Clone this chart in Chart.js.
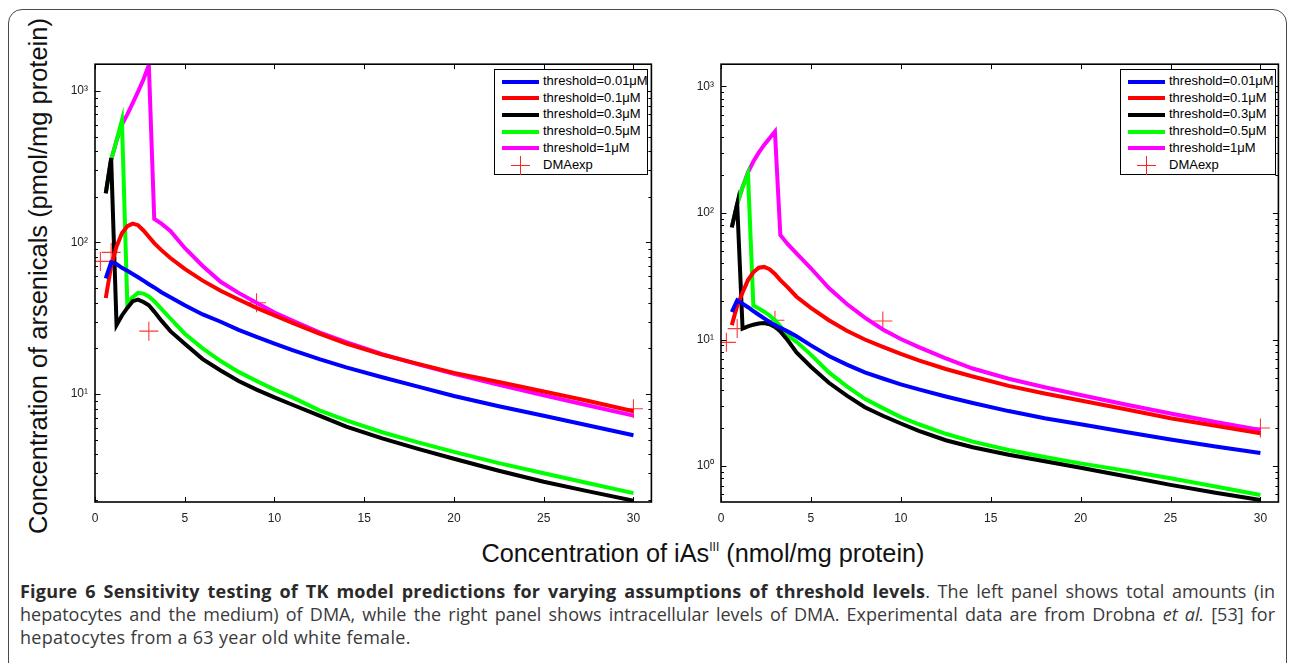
<!DOCTYPE html>
<html>
<head>
<meta charset="utf-8">
<script src="https://cdn.jsdelivr.net/npm/chart.js@4.4.1/dist/chart.umd.min.js"></script>
<style>
  html, body { margin: 0; padding: 0; background: #fff; }
  body { width: 1292px; height: 663px; position: relative; overflow: hidden; font-family: 'Liberation Sans', Arial, sans-serif; }
  .frame { position: absolute; left: 8px; top: 9px; width: 1277px; height: 720px; border: 1.5px solid #4a4a4a; border-radius: 14px; }
  .panel { position: absolute; }
  .ytitle { position: absolute; left: 38px; top: 276px; transform: translate(-50%, -50%) rotate(-90deg); white-space: nowrap; font-size: 25.5px; color: #111; }
  .xtitle { position: absolute; left: 703px; top: 553px; transform: translate(-50%, -50%); white-space: nowrap; font-size: 25.3px; color: #111; }
  .xtitle sup { font-size: 12px; vertical-align: 11px; line-height: 0; }
  .legend { position: absolute; border: 1px solid #000; background: #fff; font-size: 13px; color: #000; box-sizing: border-box; }
  .legend .row { position: absolute; left: 0; height: 17px; width: 100%; }
  .legend .sample { position: absolute; left: 7px; width: 37px; top: 6.5px; height: 4px; }
  .legend .cross-h { position: absolute; left: 16px; width: 19px; top: 8px; height: 1px; background: #f22; }
  .legend .cross-v { position: absolute; left: 25px; width: 1px; top: -1px; height: 19px; background: #f22; }
  .legend .txt { position: absolute; left: 48px; top: 0px; white-space: nowrap; line-height: 16px; }
  .caption { position: absolute; left: 20px; width: 1255px; font-family: 'Open Sans', sans-serif; font-size: 18px; color: #3a3a3a; line-height: 23px; }
  .caption .ln { text-align: justify; text-align-last: justify; white-space: nowrap; }
  .caption .ln.last { text-align: left; text-align-last: left; letter-spacing: 0.3px; }
  .caption b { color: #2a2a2a; letter-spacing: 0.2px; }
</style>
</head>
<body>
<div class="frame"></div>
<div class="ytitle">Concentration of arsenicals (pmol/mg protein)</div>
<div class="panel" style="left:40px;top:50px;"><canvas id="leftChart" width="622" height="480"></canvas></div>
<div class="panel" style="left:670px;top:50px;"><canvas id="rightChart" width="619" height="480"></canvas></div>
<div class="legend" id="leftLegend" style="left:494px;top:69px;width:154px;height:106px;"></div>
<div class="legend" id="rightLegend" style="left:1120px;top:69px;width:156px;height:106px;"></div>
<div class="xtitle">Concentration of iAs<sup>III</sup> (nmol/mg protein)</div>
<div class="caption" style="top:580px;">
  <div class="ln"><b>Figure 6 Sensitivity testing of TK model predictions for varying assumptions of threshold levels</b>. The left panel shows total amounts (in</div>
  <div class="ln">hepatocytes and the medium) of DMA, while the right panel shows intracellular levels of DMA. Experimental data are from Drobna <i>et al.</i> [53] for</div>
  <div class="ln last">hepatocytes from a 63 year old white female.</div>
</div>
<script>
// iAs(III) concentration grid shared by all model curves
var xGrid = [0.6, 0.9, 1.2, 1.5, 1.8, 2.1, 2.4, 2.7, 3.0, 3.3, 3.7, 4.2, 5, 6, 7, 8, 9, 10, 11, 12.5, 14, 16, 18, 20, 22.5, 25, 27.5, 30]

// left panel: total DMA
var blueLeft = [58, 74, 72, 68, 65, 62, 59, 56, 53, 50.5, 47, 43.5, 38.5, 33.5, 30, 26.5, 23.8, 21.5, 19.5, 17, 15, 12.9, 11.2, 9.7, 8.3, 7.2, 6.2, 5.35]
var redLeft = [43, 70, 94, 115, 128, 133, 130, 120, 109, 99, 89, 79, 67, 56, 48, 42, 37, 33, 29.5, 25, 21.5, 18.2, 15.8, 13.8, 12, 10.4, 9, 7.7]
var blackLeft = [211, 360, 28.5, 33, 37, 41, 42, 40.5, 38.5, 35, 30.5, 26, 21.5, 17, 14.3, 12.2, 10.7, 9.5, 8.5, 7.2, 6.1, 5.1, 4.35, 3.74, 3.12, 2.64, 2.28, 1.98]
var greenLeft = [211, 350, 470, 640, 39.5, 43.5, 46.5, 46, 44, 41, 36.5, 31.5, 25, 20, 16.5, 14, 12.2, 10.7, 9.5, 7.8, 6.7, 5.6, 4.8, 4.15, 3.5, 3.0, 2.58, 2.22]
var magentaLeft = [211, 350, 470, 600, 700, 830, 990, 1190, 1480, 143, 133, 119, 92, 70, 55, 46.5, 40, 34.5, 30.5, 25.5, 22, 18.3, 15.7, 13.6, 11.5, 9.8, 8.4, 7.2]
var expXLeft = [0.3, 0.9, 3, 9, 30]
var expYLeft = [75, 86, 26, 40, 8]

// right panel: intracellular DMA
var blueRight = [16.5, 20.4, 19.2, 18, 16.8, 15.7, 14.7, 13.8, 13, 12.4, 11.6, 10.6, 9, 7.4, 6.34, 5.5, 4.92, 4.42, 4.04, 3.55, 3.15, 2.72, 2.39, 2.14, 1.86, 1.62, 1.43, 1.27]
var redRight = [13, 18.5, 23.5, 29.5, 34, 37, 37.5, 36, 33, 29.5, 26, 21.8, 17.8, 14.2, 11.75, 10, 8.75, 7.7, 6.85, 5.85, 5.1, 4.3, 3.75, 3.3, 2.81, 2.39, 2.08, 1.82]
var blackRight = [77, 118, 12.2, 12.7, 13.1, 13.4, 13.5, 13.2, 12.6, 11.6, 9.9, 7.9, 6.1, 4.55, 3.6, 2.92, 2.5, 2.17, 1.9, 1.6, 1.41, 1.23, 1.09, 0.97, 0.83, 0.71, 0.615, 0.54]
var greenRight = [77, 118, 160, 205, 18.6, 17.6, 16.6, 15.5, 14.2, 12.8, 10.8, 9.6, 7.6, 5.5, 4.26, 3.4, 2.87, 2.44, 2.14, 1.8, 1.56, 1.34, 1.18, 1.05, 0.92, 0.8, 0.69, 0.59]
var magentaRight = [77, 118, 160, 210, 255, 300, 345, 390, 440, 67, 57, 48, 36.6, 25.5, 19.1, 14.9, 12, 10.1, 8.7, 7.1, 5.9, 4.9, 4.2, 3.65, 3.07, 2.6, 2.23, 1.93]
var expXRight = [0.3, 0.9, 3, 9, 30]
var expYRight = [9.5, 12.2, 14.2, 14.0, 2.0]

var seriesLabels = ['threshold=0.01\u03bcM', 'threshold=0.1\u03bcM', 'threshold=0.3\u03bcM', 'threshold=0.5\u03bcM', 'threshold=1\u03bcM']
var seriesColors = ['#0000ff', '#ff0000', '#000000', '#00ff00', '#ff00ff']
var expLabel = 'DMAexp'
var xTicks = [0, 5, 10, 15, 20, 25, 30]
var supDigits = {'-1': '\u207b\u00b9', 0: '\u2070', 1: '\u00b9', 2: '\u00b2', 3: '\u00b3'}

function pairs (xs, ys) {
  var out = []
  for (var i = 0; i < xs.length; i++) out.push({x: xs[i], y: ys[i]})
  return out
}

// matlab style box with inward ticks on all four sides
var boxPlugin = {
  id: 'box',
  afterDatasetsDraw (chart) {
    var ctx = chart.ctx, a = chart.chartArea
    var xs = chart.scales.x, ys = chart.scales.y
    ctx.save()
    ctx.strokeStyle = '#000'
    ctx.lineWidth = 1
    ctx.beginPath()
    xTicks.forEach(function (v) {
      var px = Math.round(xs.getPixelForValue(v)) + 0.5
      ctx.moveTo(px, a.bottom); ctx.lineTo(px, a.bottom - 5)
      ctx.moveTo(px, a.top); ctx.lineTo(px, a.top + 5)
    })
    var lo = Math.floor(Math.log10(ys.min)), hi = Math.ceil(Math.log10(ys.max))
    for (var e = lo; e <= hi; e++) {
      for (var m = 1; m <= 9; m++) {
        var v = m * Math.pow(10, e)
        if (v < ys.min || v > ys.max) continue
        var py = Math.round(ys.getPixelForValue(v)) + 0.5
        var len = m === 1 ? 5.5 : 3
        ctx.moveTo(a.left, py); ctx.lineTo(a.left + len, py)
        ctx.moveTo(a.right, py); ctx.lineTo(a.right - len, py)
      }
    }
    ctx.stroke()
    ctx.lineWidth = 1.6
    ctx.strokeRect(a.left, a.top, a.right - a.left, a.bottom - a.top)
    ctx.restore()
  }
}

function makeChart (id, ysList, expX, expY, yMin, yMax, yWidth) {
  var datasets = []
  for (var i = 0; i < ysList.length; i++) {
    datasets.push({
      label: seriesLabels[i],
      data: pairs(xGrid, ysList[i]),
      borderColor: seriesColors[i],
      backgroundColor: seriesColors[i],
      borderWidth: 4,
      pointRadius: 0,
      tension: 0,
      fill: false
    })
  }
  datasets.push({
    label: expLabel,
    data: pairs(expX, expY),
    showLine: false,
    pointStyle: 'cross',
    pointRadius: 9.5,
    borderWidth: 1.1,
    borderColor: 'rgba(255,20,20,0.85)',
    backgroundColor: 'rgba(255,20,20,0.85)'
  })
  var tickFont = {family: "'Liberation Sans', Arial, sans-serif", size: 12}
  return new Chart(document.getElementById(id).getContext('2d'), {
    type: 'line',
    data: {datasets: datasets},
    options: {
      responsive: false,
      animation: false,
      devicePixelRatio: 1,
      layout: {padding: {top: 13.5, right: 10, left: 0, bottom: 0}},
      plugins: {legend: {display: false}, tooltip: {enabled: false}},
      scales: {
        x: {
          type: 'linear', min: 0, max: 31,
          afterBuildTicks (s) { s.ticks = xTicks.map(function (v) { return {value: v} }) },
          afterFit (s) { s.height = 28 },
          grid: {display: false, drawTicks: false},
          border: {display: false},
          ticks: {font: tickFont, color: '#222', padding: 9, maxRotation: 0}
        },
        y: {
          type: 'logarithmic', min: yMin, max: yMax,
          afterBuildTicks (s) {
            var t = []
            for (var e = -1; e <= 3; e++) {
              var v = Math.pow(10, e)
              if (v >= s.min && v <= s.max) t.push({value: v})
            }
            s.ticks = t
          },
          afterFit (s) { s.width = yWidth },
          grid: {display: false, drawTicks: false},
          border: {display: false},
          ticks: {
            font: tickFont, color: '#222', padding: 7,
            callback (v) { return '10' + supDigits[Math.round(Math.log10(v))] }
          }
        }
      }
    },
    plugins: [boxPlugin]
  })
}

function makeLegend (chart, el) {
  chart.data.datasets.forEach(function (ds, i) {
    var row = document.createElement('div')
    row.className = 'row'
    row.style.top = (3 + i * 16.7) + 'px'
    if (ds.showLine === false) {
      row.innerHTML = '<div class="cross-h"></div><div class="cross-v"></div>'
    } else {
      row.innerHTML = '<div class="sample" style="background:' + ds.borderColor + '"></div>'
    }
    var t = document.createElement('div')
    t.className = 'txt'
    t.textContent = ds.label
    row.appendChild(t)
    el.appendChild(row)
  })
}

var leftChart = makeChart('leftChart', [blueLeft, redLeft, blackLeft, greenLeft, magentaLeft], expXLeft, expYLeft, 1.94, 1500, 55)
var rightChart = makeChart('rightChart', [blueRight, redRight, blackRight, greenRight, magentaRight], expXRight, expYRight, 0.52, 1500, 51)
makeLegend(leftChart, document.getElementById('leftLegend'))
makeLegend(rightChart, document.getElementById('rightLegend'))
</script>
</body>
</html>
